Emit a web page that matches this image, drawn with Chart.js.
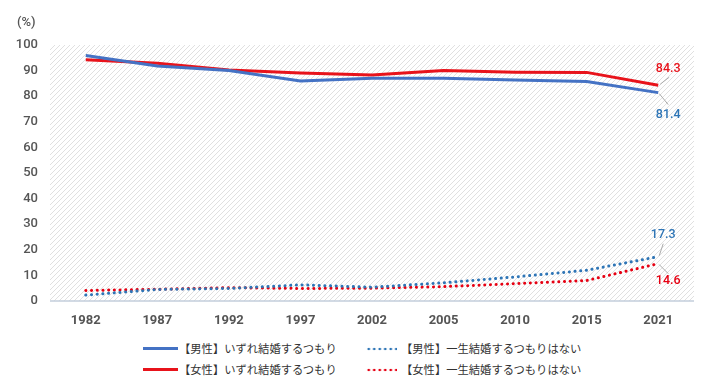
<!DOCTYPE html>
<html>
<head>
<meta charset="utf-8">
<script src="https://cdn.jsdelivr.net/npm/chart.js@4/dist/chart.umd.min.js"></script>
<style>
  body { margin: 0; background: #fff; }
  #wrap { position: relative; width: 721px; height: 391px; }
  #chartBox { position: absolute; left: 0; top: 0; width: 721px; height: 337px; }
  .lg { position: absolute; font-family: "Noto Sans CJK JP", sans-serif; font-size: 11.3px; color: #333; line-height: 14px; white-space: nowrap; }
  .lg .solid { display: inline-block; width: 35px; height: 0; border-top: 3px solid; vertical-align: middle; margin-right: 1px; position: relative; top: -1px; }
  .lg .dots { display: inline-block; width: 31px; height: 6px; background-size: 5.5px 6px; vertical-align: middle; margin-right: 4px; position: relative; top: -1px; }
</style>
</head>
<body>
<div id="wrap">
  <div id="chartBox"><canvas id="marriageChart"></canvas></div>
  <div id="legend"></div>
</div>
<script>
const years = ["1982", "1987", "1992", "1997", "2002", "2005", "2010", "2015", "2021"];
const maleWillMarry = [95.9, 91.8, 90.0, 85.9, 87.0, 87.0, 86.3, 85.7, 81.4];
const femaleWillMarry = [94.2, 92.9, 90.2, 89.1, 88.3, 90.0, 89.4, 89.3, 84.3];
const maleNever = [2.3, 4.5, 4.9, 6.3, 5.4, 7.1, 9.4, 12.0, 17.3];
const femaleNever = [4.1, 4.6, 5.2, 4.9, 5.0, 5.6, 6.8, 8.0, 14.6];
const seriesNames = [
    "【男性】いずれ結婚するつもり",
    "【男性】一生結婚するつもりはない",
    "【女性】いずれ結婚するつもり",
    "【女性】一生結婚するつもりはない"
];

const BLUE = "#4472c4";
const RED = "#e8131b";
const DOT_BLUE = "#2e75b6";
const DOT_RED = "#e60012";

document.addEventListener("DOMContentLoaded", () => {
    const ctx = document.getElementById("marriageChart").getContext("2d");

    // diagonal hatch for plot background
    const tile = document.createElement("canvas");
    tile.width = 5; tile.height = 5;
    const t = tile.getContext("2d");
    t.strokeStyle = "#e0e0e0";
    t.lineWidth = 1;
    t.beginPath();
    t.moveTo(-1, 6); t.lineTo(6, -1);
    t.moveTo(-1, 1); t.lineTo(1, -1);
    t.moveTo(4, 6); t.lineTo(6, 4);
    t.stroke();
    const hatch = ctx.createPattern(tile, "repeat");

    const hatchBg = {
        id: "hatchBg",
        beforeDatasetsDraw(chart) {
            const a = chart.chartArea;
            const c = chart.ctx;
            c.save();
            c.fillStyle = hatch;
            c.fillRect(a.left, a.top, a.right - a.left, a.bottom - a.top);
            c.strokeStyle = "#c3cedb";
            c.lineWidth = 1.5;
            c.beginPath();
            c.moveTo(a.left, a.bottom);
            c.lineTo(a.right, a.bottom);
            c.stroke();
            c.fillStyle = "#555";
            c.font = "500 13px Roboto";
            c.textAlign = "left";
            c.textBaseline = "middle";
            c.fillText("(%)", 17, 23);
            c.restore();
        }
    };

    // value labels at the 2021 end of each series, with a short leader line
    const endLabels = {
        id: "endLabels",
        afterDatasetsDraw(chart) {
            const c = chart.ctx;
            chart.data.datasets.forEach((ds, i) => {
                const lab = ds.endLabel;
                const pt = chart.getDatasetMeta(i).data[ds.data.length - 1];
                c.save();
                c.strokeStyle = "#aaa";
                c.lineWidth = 1;
                c.beginPath();
                c.moveTo(pt.x + lab.l1[0], pt.y + lab.l1[1]);
                c.lineTo(pt.x + lab.l2[0], pt.y + lab.l2[1]);
                c.stroke();
                c.fillStyle = lab.color;
                c.font = "500 12.5px Roboto";
                c.textAlign = "center";
                c.textBaseline = "middle";
                c.fillText(ds.data[ds.data.length - 1].toFixed(1), pt.x + lab.dx, pt.y + lab.dy);
                c.restore();
            });
        }
    };

    new Chart(ctx, {
        type: "line",
        data: {
            labels: years,
            datasets: [
                {
                    label: seriesNames[0], data: maleWillMarry,
                    borderColor: BLUE, borderWidth: 3, pointRadius: 0,
                    endLabel: { color: DOT_BLUE, dx: 10, dy: 22, l1: [1, 1], l2: [10, 12] }
                },
                {
                    label: seriesNames[1], data: maleNever,
                    borderColor: DOT_BLUE, borderWidth: 3, pointRadius: 0,
                    borderDash: [0.1, 5.6], borderCapStyle: "round",
                    endLabel: { color: DOT_BLUE, dx: 5, dy: -22, l1: [1, -1], l2: [5, -13] }
                },
                {
                    label: seriesNames[2], data: femaleWillMarry,
                    borderColor: RED, borderWidth: 3, pointRadius: 0,
                    endLabel: { color: RED, dx: 10, dy: -16, l1: [2, -1], l2: [11, -8] }
                },
                {
                    label: seriesNames[3], data: femaleNever,
                    borderColor: DOT_RED, borderWidth: 3, pointRadius: 0,
                    borderDash: [0.1, 5.6], borderCapStyle: "round",
                    endLabel: { color: DOT_RED, dx: 10, dy: 17, l1: [1, 1], l2: [10, 10] }
                }
            ]
        },
        options: {
            responsive: true,
            maintainAspectRatio: false,
            animation: false,
            layout: { padding: { top: 45, right: 27, left: 0, bottom: 0 } },
            plugins: {
                legend: { display: false },
                tooltip: { enabled: false }
            },
            scales: {
                x: {
                    offset: true,
                    grid: { display: false, drawTicks: false },
                    border: { display: false },
                    ticks: { color: "#555", font: { family: "Roboto", size: 13, weight: "bold" }, padding: 12 },
                    afterFit(scale) { scale.height = 36; }
                },
                y: {
                    min: 0, max: 100,
                    grid: { display: false, drawTicks: false },
                    border: { display: false },
                    ticks: { stepSize: 10, color: "#555", font: { family: "Roboto", size: 13, weight: "500" }, padding: 12 },
                    afterFit(scale) { scale.width = 50; }
                }
            }
        },
        plugins: [hatchBg, endLabels]
    });

    // legend laid out in two columns like the original
    const legend = document.getElementById("legend");
    const items = [
        { name: seriesNames[0], color: BLUE, dotted: false, x: 143, y: 341 },
        { name: seriesNames[1], color: DOT_BLUE, dotted: true, x: 366, y: 341 },
        { name: seriesNames[2], color: RED, dotted: false, x: 143, y: 362 },
        { name: seriesNames[3], color: DOT_RED, dotted: true, x: 366, y: 362 }
    ];
    items.forEach(it => {
        const d = document.createElement("div");
        d.className = "lg";
        d.style.left = it.x + "px";
        d.style.top = it.y + "px";
        const s = document.createElement("span");
        if (it.dotted) {
            s.className = "dots";
            s.style.backgroundImage = `radial-gradient(circle at 2.75px 3px, ${it.color} 1.2px, transparent 1.6px)`;
        } else {
            s.className = "solid";
            s.style.borderTopColor = it.color;
        }
        d.appendChild(s);
        d.appendChild(document.createTextNode(it.name));
        legend.appendChild(d);
    });
});
</script>
</body>
</html>
